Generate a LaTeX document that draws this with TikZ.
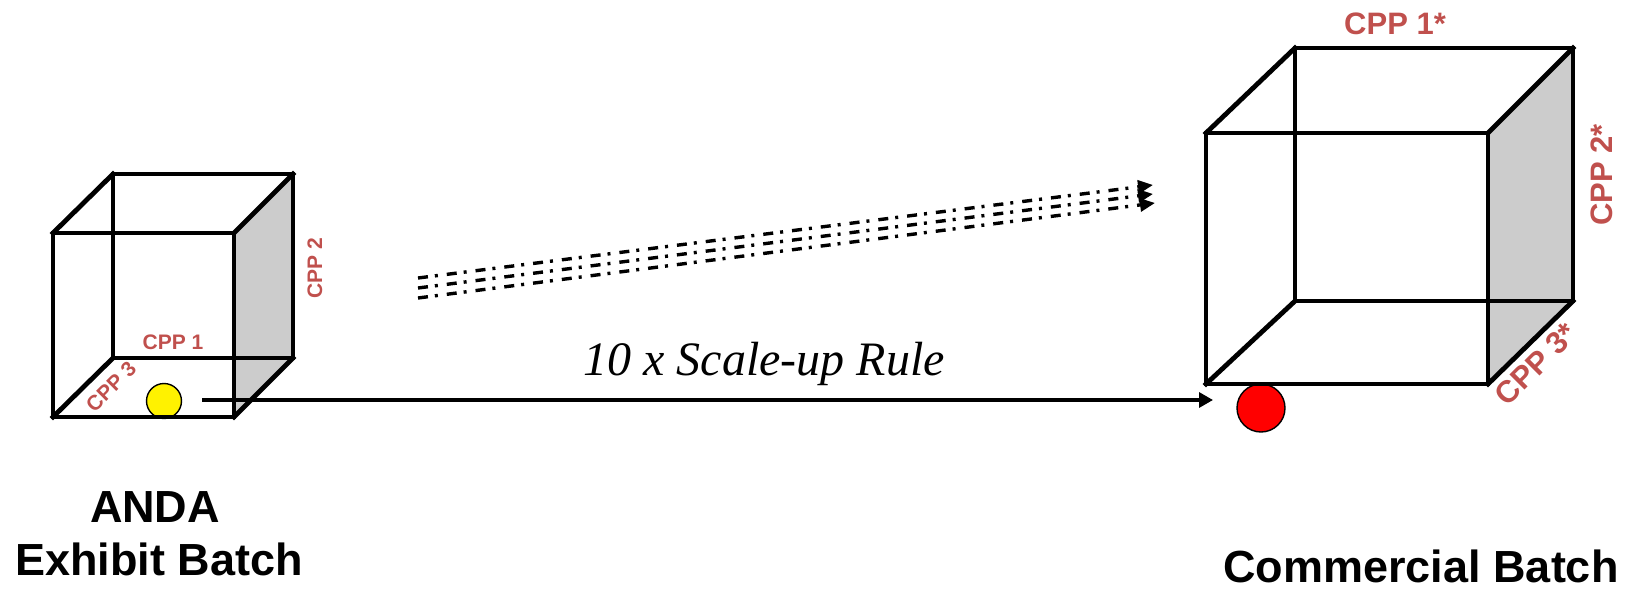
\documentclass[tikz,border=0pt]{standalone}
\usepackage{fontspec}
\setmainfont{Liberation Sans}
\newfontfamily\serifit{Liberation Serif}
\usetikzlibrary{arrows.meta}
\definecolor{cppred}{HTML}{C0504D}
\definecolor{sidegray}{HTML}{CCCCCC}
\begin{document}
\begin{tikzpicture}[x=1pt,y=-1pt,
  edge/.style={line width=4.8pt,line join=miter,line cap=rect},
  side/.style={fill=sidegray,draw=none},
  cppsmall/.style={text=cppred,inner sep=0pt,font=\fontsize{21}{25}\selectfont\bfseries},
  cppbig/.style={text=cppred,inner sep=0pt,font=\fontsize{31}{36}\selectfont\bfseries},
  ball/.style={circle,draw=black,line width=1.4pt,inner sep=0pt},
  title/.style={inner sep=0pt,anchor=base,font=\fontsize{45}{53}\selectfont\bfseries},
  dashdot/.style={line width=3.4pt,dash pattern=on 10pt off 7pt on 3pt off 9pt,-{Triangle[length=15pt,width=13pt]}},
  mainarrow/.style={line width=3.2pt,-{Triangle[length=14pt,width=15pt]}}
]
\useasboundingbox (0,0) rectangle (1637,589);

% ---------- small cube ----------
\coordinate (sfa) at (53,233);  \coordinate (sfb) at (234,233);
\coordinate (sfc) at (234,417); \coordinate (sfd) at (53,417);
\coordinate (sba) at (113,174); \coordinate (sbb) at (293,174);
\coordinate (sbc) at (293,358); \coordinate (sbd) at (113,358);
\fill[side] (sfb) -- (sbb) -- (sbc) -- (sfc) -- cycle;
\node[ball,fill=yellow,minimum size=35pt] (yel) at (164,401) {};
\draw[edge] (sfa) rectangle (sfc);
\draw[edge] (sba) rectangle (sbc);
\draw[edge] (sfa) -- (sba);
\draw[edge] (sfb) -- (sbb);
\draw[edge] (sfc) -- (sbc);
\draw[edge] (sfd) -- (sbd);

% small cube labels
\node[cppsmall,rotate=90] (cpp2) at (315,268) {CPP 2};
\node[cppsmall] (cpp1) at (173,342) {CPP 1};
\node[cppsmall,rotate=45] (cpp3) at (111,387) {CPP 3};

% ---------- big cube ----------
\coordinate (bfa) at (1206,133);  \coordinate (bfb) at (1488,133);
\coordinate (bfc) at (1488,384);  \coordinate (bfd) at (1206,384);
\coordinate (bba) at (1295,48);   \coordinate (bbb) at (1573,48);
\coordinate (bbc) at (1573,301);  \coordinate (bbd) at (1295,301);
\fill[side] (bfb) -- (bbb) -- (bbc) -- (bfc) -- cycle;
\node[ball,fill=red,minimum size=48pt] (redball) at (1261,408) {};
\draw[edge] (bfa) rectangle (bfc);
\draw[edge] (bba) rectangle (bbc);
\draw[edge] (bfa) -- (bba);
\draw[edge] (bfb) -- (bbb);
\draw[edge] (bfc) -- (bbc);
\draw[edge] (bfd) -- (bbd);

% big cube labels
\node[cppbig] (bcpp1) at (1395,24) {CPP 1*};
\node[cppbig,rotate=90] (bcpp2) at (1602,175) {CPP 2*};
\node[cppbig,rotate=45] (bcpp3) at (1536,364) {CPP 3*};

% ---------- arrows ----------
\coordinate (arrS) at (202,400);
\coordinate (arrE) at (1213,400);
\draw[mainarrow] (arrS) -- (arrE);

\coordinate (d1s) at (418,278); \coordinate (d1e) at (1153,185);
\coordinate (d2s) at (418,288); \coordinate (d2e) at (1153,194);
\coordinate (d3s) at (418,298); \coordinate (d3e) at (1155,203);
\draw[dashdot] (d1s) -- (d1e);
\draw[dashdot] (d2s) -- (d2e);
\draw[dashdot] (d3s) -- (d3e);

% ---------- texts ----------
\node[inner sep=0pt,anchor=base,font=\serifit\itshape\fontsize{48}{56}\selectfont] (rule) at (764,375) {10 x Scale-up Rule};
\node[title] (anda) at (155,522) {ANDA};
\node[title] (exhibit) at (159,575) {Exhibit Batch};
\node[title] (commercial) at (1421,582) {Commercial Batch};
\end{tikzpicture}
\end{document}
